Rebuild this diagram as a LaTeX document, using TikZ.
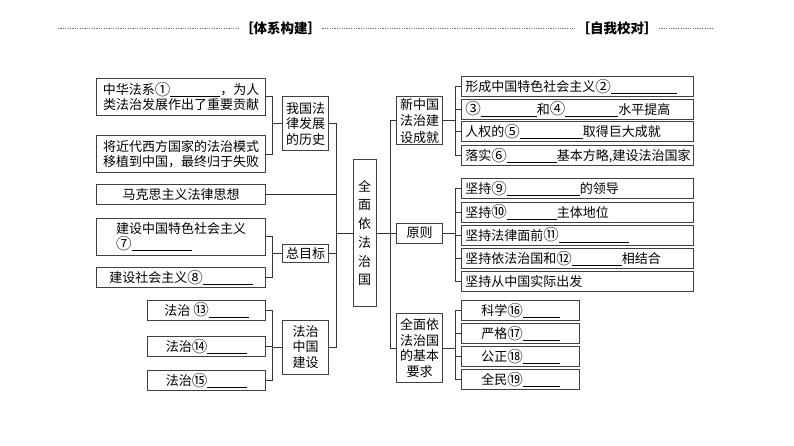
\documentclass[tikz,border=0pt]{standalone}
\usepackage{fontspec}
\setmainfont{Noto Sans CJK SC}
\newcommand\blank[1]{\rule[-2pt]{#1pt}{0.5pt}}
\newcommand\cnum[1]{\raisebox{-0.6pt}{\fontsize{15.5}{15}\selectfont#1}}
\begin{document}
\begin{tikzpicture}[x=1pt, y=-1pt, line width=0.8pt,
box/.style={draw=black!75, inner sep=0pt, minimum height=20pt, align=center, font=\fontsize{13}{15}\selectfont},
wide/.style={box, text width=224pt, inner xsep=4pt, align=left},
tall/.style={box, minimum width=45.6pt, font=\fontsize{13}{15.5}\selectfont},
head/.style={inner sep=1pt, font=\fontsize{13.5}{16}\selectfont\bfseries},
conn/.style={black!80},
dots/.style={line width=0.6pt, black!55, dash pattern=on 1.2pt off 1.2pt}]
\useasboundingbox (0,0) rectangle (794,446);

\node[head] (hd1) at (280.5,28) {［体系构建］};
\node[head] (hd2) at (617,28) {［自我校对］};
\coordinate (d0) at (58,28); \coordinate (d3) at (714,28);
\draw[dots] (d0) -- (hd1) (hd1) -- (hd2) (hd2) -- (d3);

\node[box, minimum width=169pt, minimum height=37pt] (h1) at (181.2,96.5) {中华法系\cnum{①}\blank{50}，为人\\类法治发展作出了重要贡献};
\node[box, minimum width=169pt, minimum height=37pt] (h2) at (181.2,154.3) {将近代西方国家的法治模式\\移植到中国，最终归于失败};
\node[box, minimum width=169pt] (mk) at (181.2,194.7) {马克思主义法律思想};
\node[box, minimum width=169pt, minimum height=37pt, align=left] (g1) at (181.2,236.7) {建设中国特色社会主义\\\cnum{⑦}\blank{60}};
\node[box, minimum width=169pt] (g2) at (181.2,277.3) {建设社会主义\cnum{⑧}\blank{50}};
\node[box, minimum width=118pt] (f13) at (206.7,310) {法治 \cnum{⑬}\blank{40}};
\node[box, minimum width=118pt] (f14) at (206.7,346.7) {法治\cnum{⑭}\blank{40}};
\node[box, minimum width=118pt] (f15) at (206.7,380.7) {法治\cnum{⑮}\blank{40}};

\node[tall, minimum height=54pt] (hist) at (305.5,123.7) {我国法\\律发展\\的历史};
\node[tall, minimum height=18pt] (goal) at (305.5,253.8) {总目标};
\node[tall, minimum height=54pt] (build) at (305.5,347) {法治\\中国\\建设};
\node[box, minimum width=23pt, minimum height=147pt, font=\fontsize{13}{18.7}\selectfont] (core) at (364.5,233) {全\\面\\依\\法\\治\\国};

\node[tall, minimum height=48pt, font=\fontsize{13}{16.5}\selectfont] (cn) at (419.5,120.8) {新中国\\法治建\\设成就};
\node[tall] (pr) at (419.5,233) {原则};
\node[tall, minimum height=69pt, font=\fontsize{13}{15.7}\selectfont] (req) at (419.5,348) {全面依\\法治国\\的基本\\要求};

\node[wide] (a1) at (577.4,86.7) {形成中国特色社会主义\cnum{②}\blank{66}};
\node[wide] (a2) at (577.4,109) {\cnum{③}\blank{56}和\cnum{④}\blank{53}水平提高};
\node[wide] (a3) at (577.4,131.5) {人权的\cnum{⑤}\blank{63}取得巨大成就};
\node[wide] (a4) at (577.4,155.8) {落实\cnum{⑥}\blank{50}基本方略,建设法治国家};
\node[wide] (b1) at (577.4,188.3) {坚持\cnum{⑨}\blank{73}的领导};
\node[wide] (b2) at (577.4,212) {坚持\cnum{⑩}\blank{50}主体地位};
\node[wide] (b3) at (577.4,235) {坚持法律面前\cnum{⑪}\blank{70}};
\node[wide] (b4) at (577.4,258.3) {坚持依法治国和\cnum{⑫}\blank{50}相结合};
\node[wide] (b5) at (577.4,281.4) {坚持从中国实际出发};
\node[box, minimum width=117.6pt] (c1) at (520.5,310.7) {科学\cnum{⑯}\blank{37}};
\node[box, minimum width=117.6pt] (c2) at (520.5,333.3) {严格\cnum{⑰}\blank{37}};
\node[box, minimum width=117.6pt] (c3) at (520.5,356.7) {公正\cnum{⑱}\blank{37}};
\node[box, minimum width=117.6pt] (c4) at (520.5,379.7) {全民\cnum{⑲}\blank{37}};

\coordinate (lh) at (272.7,123.7);
\coordinate (lg) at (272.7,253.8);
\coordinate (lb) at (272.7,347);
\coordinate (lt) at (336.7,233);
\coordinate (rt) at (390,233);
\coordinate (ra) at (455,120.8);
\coordinate (rb) at (455,233);
\coordinate (rc) at (455,348);

\draw[conn] (hist.west) -- (lh) (h1.east) -| (lh) (h2.east) -| (lh);
\draw[conn] (goal.west) -- (lg) (g1.east) -| (lg) (g2.east) -| (lg);
\draw[conn] (build.west) -- (lb) (f13.east) -| (lb) (f14.east) -| (lb) (f15.east) -| (lb);
\draw[conn] (core.west) -- (lt) (hist.east) -| (lt) (mk.east) -| (lt) (goal.east) -| (lt) (build.east) -| (lt);
\draw[conn] (core.east) -- (pr.west) (cn.west) -| (rt) (req.west) -| (rt);
\draw[conn] (cn.east) -- (ra);
\foreach \n in {a1,a2,a3,a4} \draw[conn] (\n.west) -| (ra);
\draw[conn] (pr.east) -- (rb);
\foreach \n in {b1,b2,b3,b4,b5} \draw[conn] (\n.west) -| (rb);
\draw[conn] (req.east) -- (rc);
\foreach \n in {c1,c2,c3,c4} \draw[conn] (\n.west) -| (rc);

\end{tikzpicture}
\end{document}
